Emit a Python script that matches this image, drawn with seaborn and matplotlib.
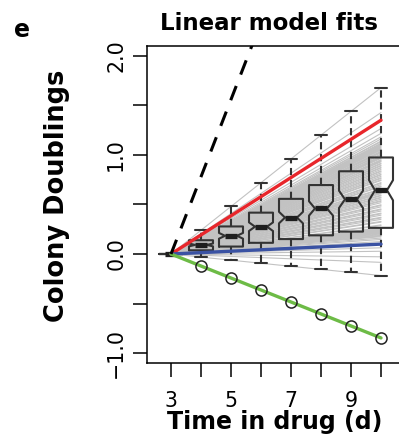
import matplotlib
matplotlib.use("Agg")
import matplotlib.pyplot as plt
import pandas as pd
import seaborn as sns

# Days in drug at which every colony was measured
days = [3, 4, 5, 6, 7, 8, 9, 10]

# Fitted growth rate of each colony (doublings per day), sorted
colony_rates = [
    -0.121, -0.031, -0.012, -0.004, 0.004, 0.009, 0.0143, 0.018, 0.021, 0.023,
    0.025, 0.026, 0.027, 0.028, 0.029, 0.030, 0.031, 0.031, 0.032, 0.033,
    0.033, 0.034, 0.034, 0.035, 0.035, 0.035, 0.036, 0.036, 0.036, 0.037,
    0.038, 0.041, 0.042, 0.046, 0.047, 0.050, 0.052, 0.053, 0.056, 0.058,
    0.059, 0.062, 0.064, 0.065, 0.068, 0.070, 0.071, 0.074, 0.076, 0.077,
    0.079, 0.081, 0.082, 0.084, 0.085, 0.087, 0.088, 0.089, 0.090, 0.091,
    0.093, 0.094, 0.097, 0.098, 0.100, 0.102, 0.103, 0.106, 0.107, 0.109,
    0.110, 0.112, 0.114, 0.115, 0.117, 0.119, 0.120, 0.122, 0.124, 0.125,
    0.127, 0.128, 0.130, 0.131, 0.133, 0.134, 0.135, 0.136, 0.138, 0.139,
    0.140, 0.141, 0.141, 0.143, 0.144, 0.144, 0.146, 0.147, 0.148, 0.148,
    0.150, 0.151, 0.152, 0.153, 0.154, 0.155, 0.156, 0.157, 0.158, 0.159,
    0.160, 0.162, 0.163, 0.166, 0.169, 0.174, 0.181, 0.193, 0.204, 0.240,
]

# Highlighted colonies: fastest-growing example, near-static, and declining
highlight_rates = [0.193, 0.0143, -0.121]
highlight_colors = ["#e8262b", "#3a52a3", "#6dbb46"]

# Untreated reference growth rate (doublings per day)
reference_rate = 0.78

x_ticks = [3, 4, 5, 6, 7, 8, 9, 10]
x_labels = ["3", "", "5", "", "7", "", "9", ""]
y_ticks = [-1.0, -0.5, 0.0, 0.5, 1.0, 1.5, 2.0]
y_labels = ["\u22121.0", "", "0.0", "", "1.0", "", "2.0"]

title = "Linear model fits"
x_title = "Time in drug (d)"
y_title = "Colony Doublings"
panel = "e"

sns.set_style("ticks")
plt.rcParams["font.family"] = ["DejaVu Sans"]
plt.rcParams["text.color"] = "black"

W, H = 399, 444
fig = plt.figure(figsize=(W / 100, H / 100), dpi=100)
# plotting box runs past the right edge of the figure
ax = fig.add_axes([147 / W, (H - 363) / H, (430 - 147) / W, (363 - 46) / H])

# Long table: each colony's fitted doublings on each day
long = pd.DataFrame(
    [(i, d, r * (d - days[0])) for i, r in enumerate(colony_rates) for d in days],
    columns=["colony", "day", "doublings"],
)

sns.lineplot(data=long, x="day", y="doublings", units="colony", estimator=None,
             color="#c2c2c2", linewidth=0.8, ax=ax, zorder=1, legend=False)

sns.boxplot(data=long, x="day", y="doublings", native_scale=True, orient="x",
            fill=False, color="#333333", width=0.8, linewidth=1.5,
            shownotches=True, ax=ax, zorder=3,
            whiskerprops=dict(linestyle=(0, (3.5, 2.2))),
            medianprops=dict(linewidth=3.8, color="#1e1e1e"),
            flierprops=dict(marker="o", markersize=8, markerfacecolor="none",
                            markeredgecolor="#222222", markeredgewidth=1.1,
                            zorder=6))

for rate, col in zip(highlight_rates, highlight_colors):
    hl = pd.DataFrame({"day": days, "doublings": [rate * (d - days[0]) for d in days]})
    sns.lineplot(data=hl, x="day", y="doublings", color=col, linewidth=2.4,
                 ax=ax, zorder=5, legend=False)

ref = pd.DataFrame({"day": days, "doublings": [reference_rate * (d - days[0]) for d in days]})
sns.lineplot(data=ref, x="day", y="doublings", color="black", linewidth=2.2,
             linestyle=(0, (5, 4)), ax=ax, zorder=7, legend=False)

ax.set_xlim(2.2, 2.2 + (430 - 147) / 30.0)
ax.set_ylim(-1.10, 2.10)
ax.set_xticks(x_ticks)
ax.set_xticklabels(x_labels)
ax.set_yticks(y_ticks)
ax.set_yticklabels(y_labels, rotation=90, va="center", ha="right")
ax.set_xlabel("")
ax.set_ylabel("")
ax.tick_params(axis="both", length=10, width=1.1, color="black",
               labelsize=14.8, labelcolor="black")
ax.tick_params(axis="x", pad=10)
ax.tick_params(axis="y", pad=5)
for name, s in ax.spines.items():
    s.set_linewidth(1.1)
    s.set_color("black")
    s.set_visible(name != "right")

fig.text(275 / W, 1 - 429 / H, x_title, ha="center", va="baseline",
         fontsize=17, fontweight="bold", color="black")
fig.text(57.5 / W, 1 - 195.5 / H, y_title, ha="center", va="center",
         rotation=90, fontsize=18.5, fontweight="bold", color="black")
fig.text(269 / W, 1 - 30 / H, title, ha="center", va="baseline",
         fontsize=16.5, fontweight="bold", color="black")
fig.text(14 / W, 1 - 37 / H, panel, ha="left", va="baseline",
         fontsize=17, fontweight="bold", color="black")

fig.savefig("out.png", dpi=100)
